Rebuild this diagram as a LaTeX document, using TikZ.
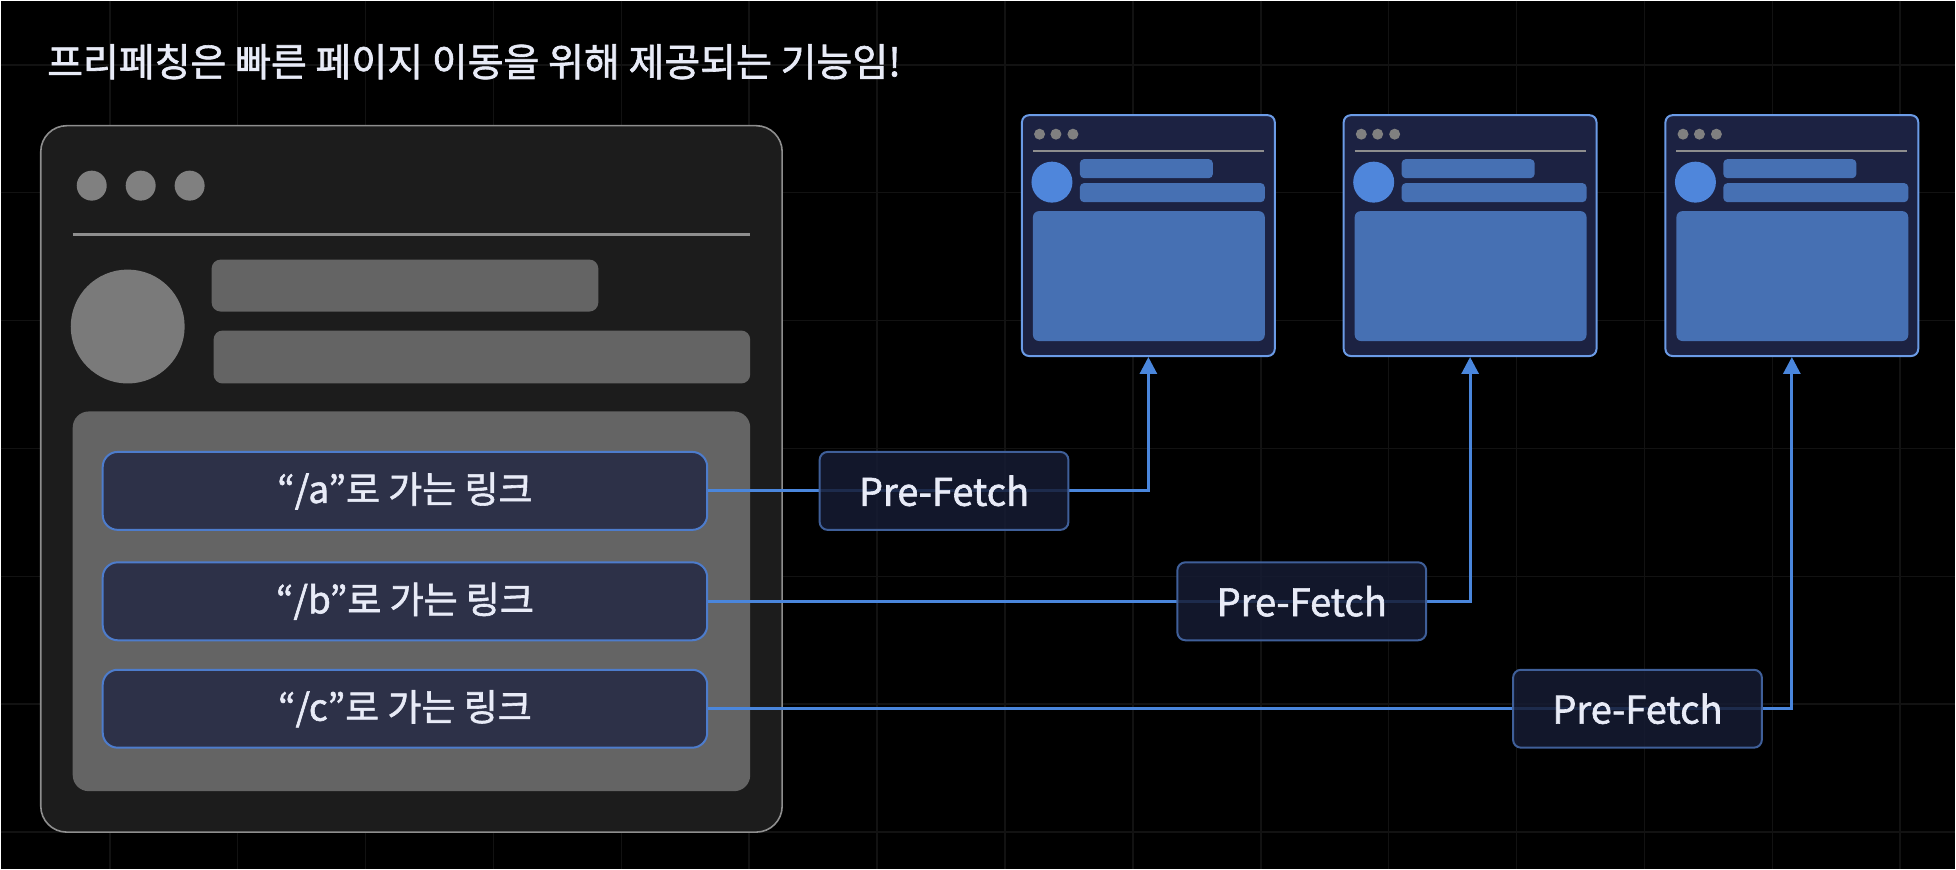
\documentclass[tikz,border=0pt]{standalone}
\usepackage{fontspec}
\setmainfont{Noto Sans CJK KR}
\newfontfamily\medfont[RawFeature={embolden=1.6}]{Noto Sans CJK KR}
\usetikzlibrary{arrows.meta}
\definecolor{bggrid}{HTML}{121212}
\definecolor{winfill}{HTML}{1C1C1C}
\definecolor{winline}{HTML}{8E8E8E}
\definecolor{gdot}{HTML}{808080}
\definecolor{gbar}{HTML}{646464}
\definecolor{linkfill}{HTML}{2D3148}
\definecolor{linkline}{HTML}{4D7CCC}
\definecolor{txt}{HTML}{E8EBF7}
\definecolor{pffill}{HTML}{161C33}
\definecolor{pfline}{HTML}{3F5F99}
\definecolor{pgfill}{HTML}{1C2242}
\definecolor{pgline}{HTML}{6B9BE6}
\definecolor{pgavatar}{HTML}{4F86DB}
\definecolor{pgbar}{HTML}{4670B3}
\definecolor{conn}{HTML}{4A86DC}
\begin{document}
\begin{tikzpicture}[x=0.5pt,y=-0.5pt,>={Triangle[length=8.5pt,width=8.5pt]},
	linkbox/.style={draw=linkline,fill=linkfill,line width=1pt,rounded corners=7.5pt,minimum width=302.5pt,minimum height=39pt,text=txt,font=\medfont\fontsize{18.5}{22}\selectfont},
	pfbox/.style={draw=pfline,fill=pffill,fill opacity=.85,text opacity=1,line width=1pt,rounded corners=4pt,minimum width=124.5pt,minimum height=39pt,text=txt,font=\medfont\fontsize{19}{23}\selectfont},
	pagebox/.style={draw=pgline,fill=pgfill,line width=1pt,rounded corners=3.5pt,minimum width=126.5pt,minimum height=120.5pt,inner sep=0pt},
	wire/.style={draw=conn,line width=1.5pt}]
				\fill[black] (0,0) rectangle (1956,869);
				\foreach \gx in {109,237,...,1901} \draw[bggrid,line width=.8pt] (\gx,0)--(\gx,869);
				\foreach \gy in {64,192,...,832} \draw[bggrid,line width=.8pt] (0,\gy)--(1956,\gy);
				\node[anchor=west,inner sep=0pt,text=txt,font=\medfont\fontsize{19.5}{24}\selectfont] (title) at (46,61) {프리페칭은 빠른 페이지 이동을 위해 제공되는 기능임!};
				\draw[winline,fill=winfill,line width=.8pt,rounded corners=13pt] (40,125) rectangle (782,832);
				\fill[gdot] (91,185) circle[radius=15] (140,185) circle[radius=15] (189,185) circle[radius=15];
				\draw[winline,line width=1.2pt] (72,234)--(750,234);
				\fill[gdot!105] (127,326) circle[radius=57];
				\fill[gbar,rounded corners=4.5pt] (211,259) rectangle (598,311);
				\fill[gbar,rounded corners=4.5pt] (213,330) rectangle (750,383);
				\fill[gbar,rounded corners=8pt] (72,411) rectangle (750,791);
				\foreach \n/\cx in {p1/1148.5,p2/1470.5,p3/1792.5}{
					\node[pagebox] (\n) at (\cx,235) {};
					\begin{scope}[shift={(\n.north west)}]
						\fill[gdot] (18.6,20) circle[radius=5.5] (35,20) circle[radius=5.5] (52,20) circle[radius=5.5];
						\draw[winline,line width=1pt] (12,37)--(243,37);
						\fill[pgavatar] (31,68) circle[radius=20.5];
						\fill[pgbar,rounded corners=2pt] (59,45) rectangle (192,64);
						\fill[pgbar,rounded corners=2pt] (59,69) rectangle (244,88);
						\fill[pgbar,rounded corners=3pt] (12,97) rectangle (244,227);
					\end{scope}
				}
				\node[linkbox] (la) at (404.5,490.5) {“/a”로 가는 링크};
				\node[linkbox] (lb) at (404.5,601) {“/b”로 가는 링크};
				\node[linkbox] (lc) at (404.5,708.5) {“/c”로 가는 링크};
				\draw[wire,->] (la.east) -| (p1.south);
				\draw[wire,->] (lb.east) -| (p2.south);
				\draw[wire,->] (lc.east) -| (p3.south);
				\node[pfbox] (pfa) at (944,490.5) {Pre-Fetch};
				\node[pfbox] (pfb) at (1302,601) {Pre-Fetch};
				\node[pfbox] (pfc) at (1638,708.5) {Pre-Fetch};
			\end{tikzpicture}
\end{document}
